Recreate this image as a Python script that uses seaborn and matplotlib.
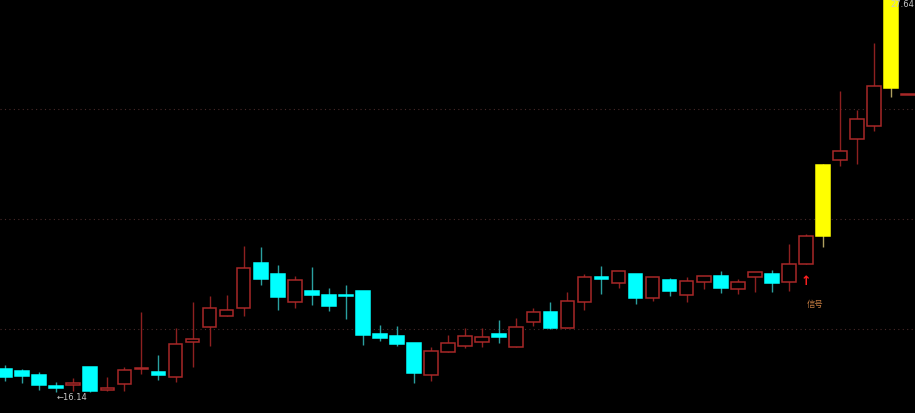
#!/usr/bin/env python3
import numpy as np
import matplotlib
matplotlib.use("Agg")
import matplotlib.pyplot as plt
import seaborn as sns

# Daily candles (oldest first)
opens = [16.81, 16.75, 16.64, 16.31, 16.34, 16.87, 16.20, 16.37, 16.81, 16.73,
         16.58, 17.61, 18.05, 18.37, 18.60, 19.92, 19.60, 18.78, 19.10, 18.98,
         18.98, 19.10, 17.84, 17.78, 17.58, 16.64, 17.31, 17.49, 17.61, 17.84,
         17.46, 18.19, 18.49, 18.02, 18.78, 19.51, 19.34, 19.60, 18.90, 19.42,
         18.98, 19.37, 19.54, 19.16, 19.51, 19.60, 19.37, 19.89, 20.72, 22.95,
         23.56, 23.94, 25.06, 24.85]
closes = [16.58, 16.61, 16.34, 16.26, 16.40, 16.17, 16.26, 16.78, 16.84, 16.64,
          17.55, 17.69, 18.60, 18.54, 19.78, 19.45, 18.93, 19.42, 18.98, 18.66,
          18.96, 17.81, 17.72, 17.55, 16.70, 17.34, 17.58, 17.78, 17.75, 17.75,
          18.05, 18.49, 18.02, 18.81, 19.51, 19.45, 19.69, 18.90, 19.51, 19.10,
          19.40, 19.54, 19.19, 19.37, 19.66, 19.34, 19.89, 20.72, 22.79, 23.21,
          24.15, 25.12, 27.64, 24.85]
highs = [16.93, 16.81, 16.73, 16.43, 16.55, 16.87, 16.58, 16.87, 18.49, 17.22,
         18.02, 18.78, 18.96, 18.98, 20.42, 20.39, 19.86, 19.54, 19.81, 19.19,
         19.28, 19.10, 18.10, 18.08, 17.58, 17.46, 17.81, 18.02, 18.02, 18.25,
         18.31, 18.60, 18.78, 19.07, 19.60, 19.84, 19.69, 19.60, 19.51, 19.48,
         19.51, 19.54, 19.69, 19.45, 19.66, 19.72, 20.48, 20.77, 22.83, 24.97,
         24.41, 26.38, 27.64, 24.85]
lows = [16.46, 16.40, 16.20, 16.14, 16.17, 16.15, 16.16, 16.17, 16.67, 16.49,
        16.43, 16.87, 17.49, 18.37, 18.37, 19.28, 18.54, 18.60, 18.69, 18.52,
        18.28, 17.52, 17.64, 17.49, 16.40, 16.46, 17.31, 17.43, 17.46, 17.58,
        17.46, 18.08, 17.99, 18.02, 18.54, 19.01, 19.19, 18.72, 18.81, 18.96,
        18.78, 19.16, 19.04, 19.01, 19.07, 19.07, 19.10, 19.89, 20.39, 22.77,
        22.83, 23.80, 24.79, 24.85]
limit_up_days = [48, 52]
grid_levels = [24.44, 21.21, 17.99]
signal_day = 47

UP = "#a82828"
DOWN = "#00ffff"
LIMIT = "#ffff00"

sns.set_theme(style="dark", rc={"axes.facecolor": "black", "figure.facecolor": "black"})
plt.rcParams['font.family'] = ['DejaVu Sans', 'Noto Sans CJK SC']

fig = plt.figure(figsize=(9.15, 4.14), dpi=100)
ax = fig.add_axes([0, 0, 1, 1])
ax.set_facecolor("black")

x = np.arange(len(opens))
o = np.array(opens)
c = np.array(closes)

for lvl in grid_levels:
    ax.axhline(lvl, color="#4a2a2a", linestyle=(0, (1, 3)), linewidth=0.8, zorder=0)

for i in x:
    if i in limit_up_days:
        body_c, wick_c, face = LIMIT, "#b0a060", LIMIT
    elif c[i] >= o[i]:
        body_c, wick_c, face = UP, "#8e2020", "black"
    else:
        body_c, wick_c, face = DOWN, "#2aa0a0", DOWN
    ax.vlines(i, lows[i], highs[i], color=wick_c, linewidth=1.0, zorder=1)
    bottom = min(o[i], c[i])
    height = max(abs(c[i] - o[i]), 0.02)
    ax.bar(i, height, bottom=bottom, width=0.8, facecolor=face,
           edgecolor=body_c, linewidth=1.1, zorder=2)

# min / max price labels
lo_i = int(np.argmin(lows))
ax.text(lo_i, lows[lo_i] - 0.13, "\u219016.14", color="#c8c8c8", fontsize=6,
        ha="left", va="center", zorder=3)
hi_i = int(np.argmax(highs))
ax.text(0.999, highs[hi_i] - 0.1, "27.64", color="#c8c8c8", fontsize=6,
        transform=ax.get_yaxis_transform(), ha="right", va="center", zorder=3)

# buy signal marker
ax.text(signal_day, 19.40, "\u2191", color="#ff2020", fontsize=9, fontweight="bold",
        ha="center", va="center", zorder=3)
ax.text(signal_day + 0.55, 18.72, "信号", color="#c07a40", fontsize=6,
        family=['Noto Sans CJK SC', 'DejaVu Sans'], ha="center", va="center", zorder=3)

ax.set_xlim(-0.3, 53.4)
ax.set_ylim(15.52, 27.67)
ax.set_xticks([])
ax.set_yticks([])
for s in ax.spines.values():
    s.set_visible(False)
ax.grid(False)

fig.savefig("out.png", dpi=100, facecolor="black")
